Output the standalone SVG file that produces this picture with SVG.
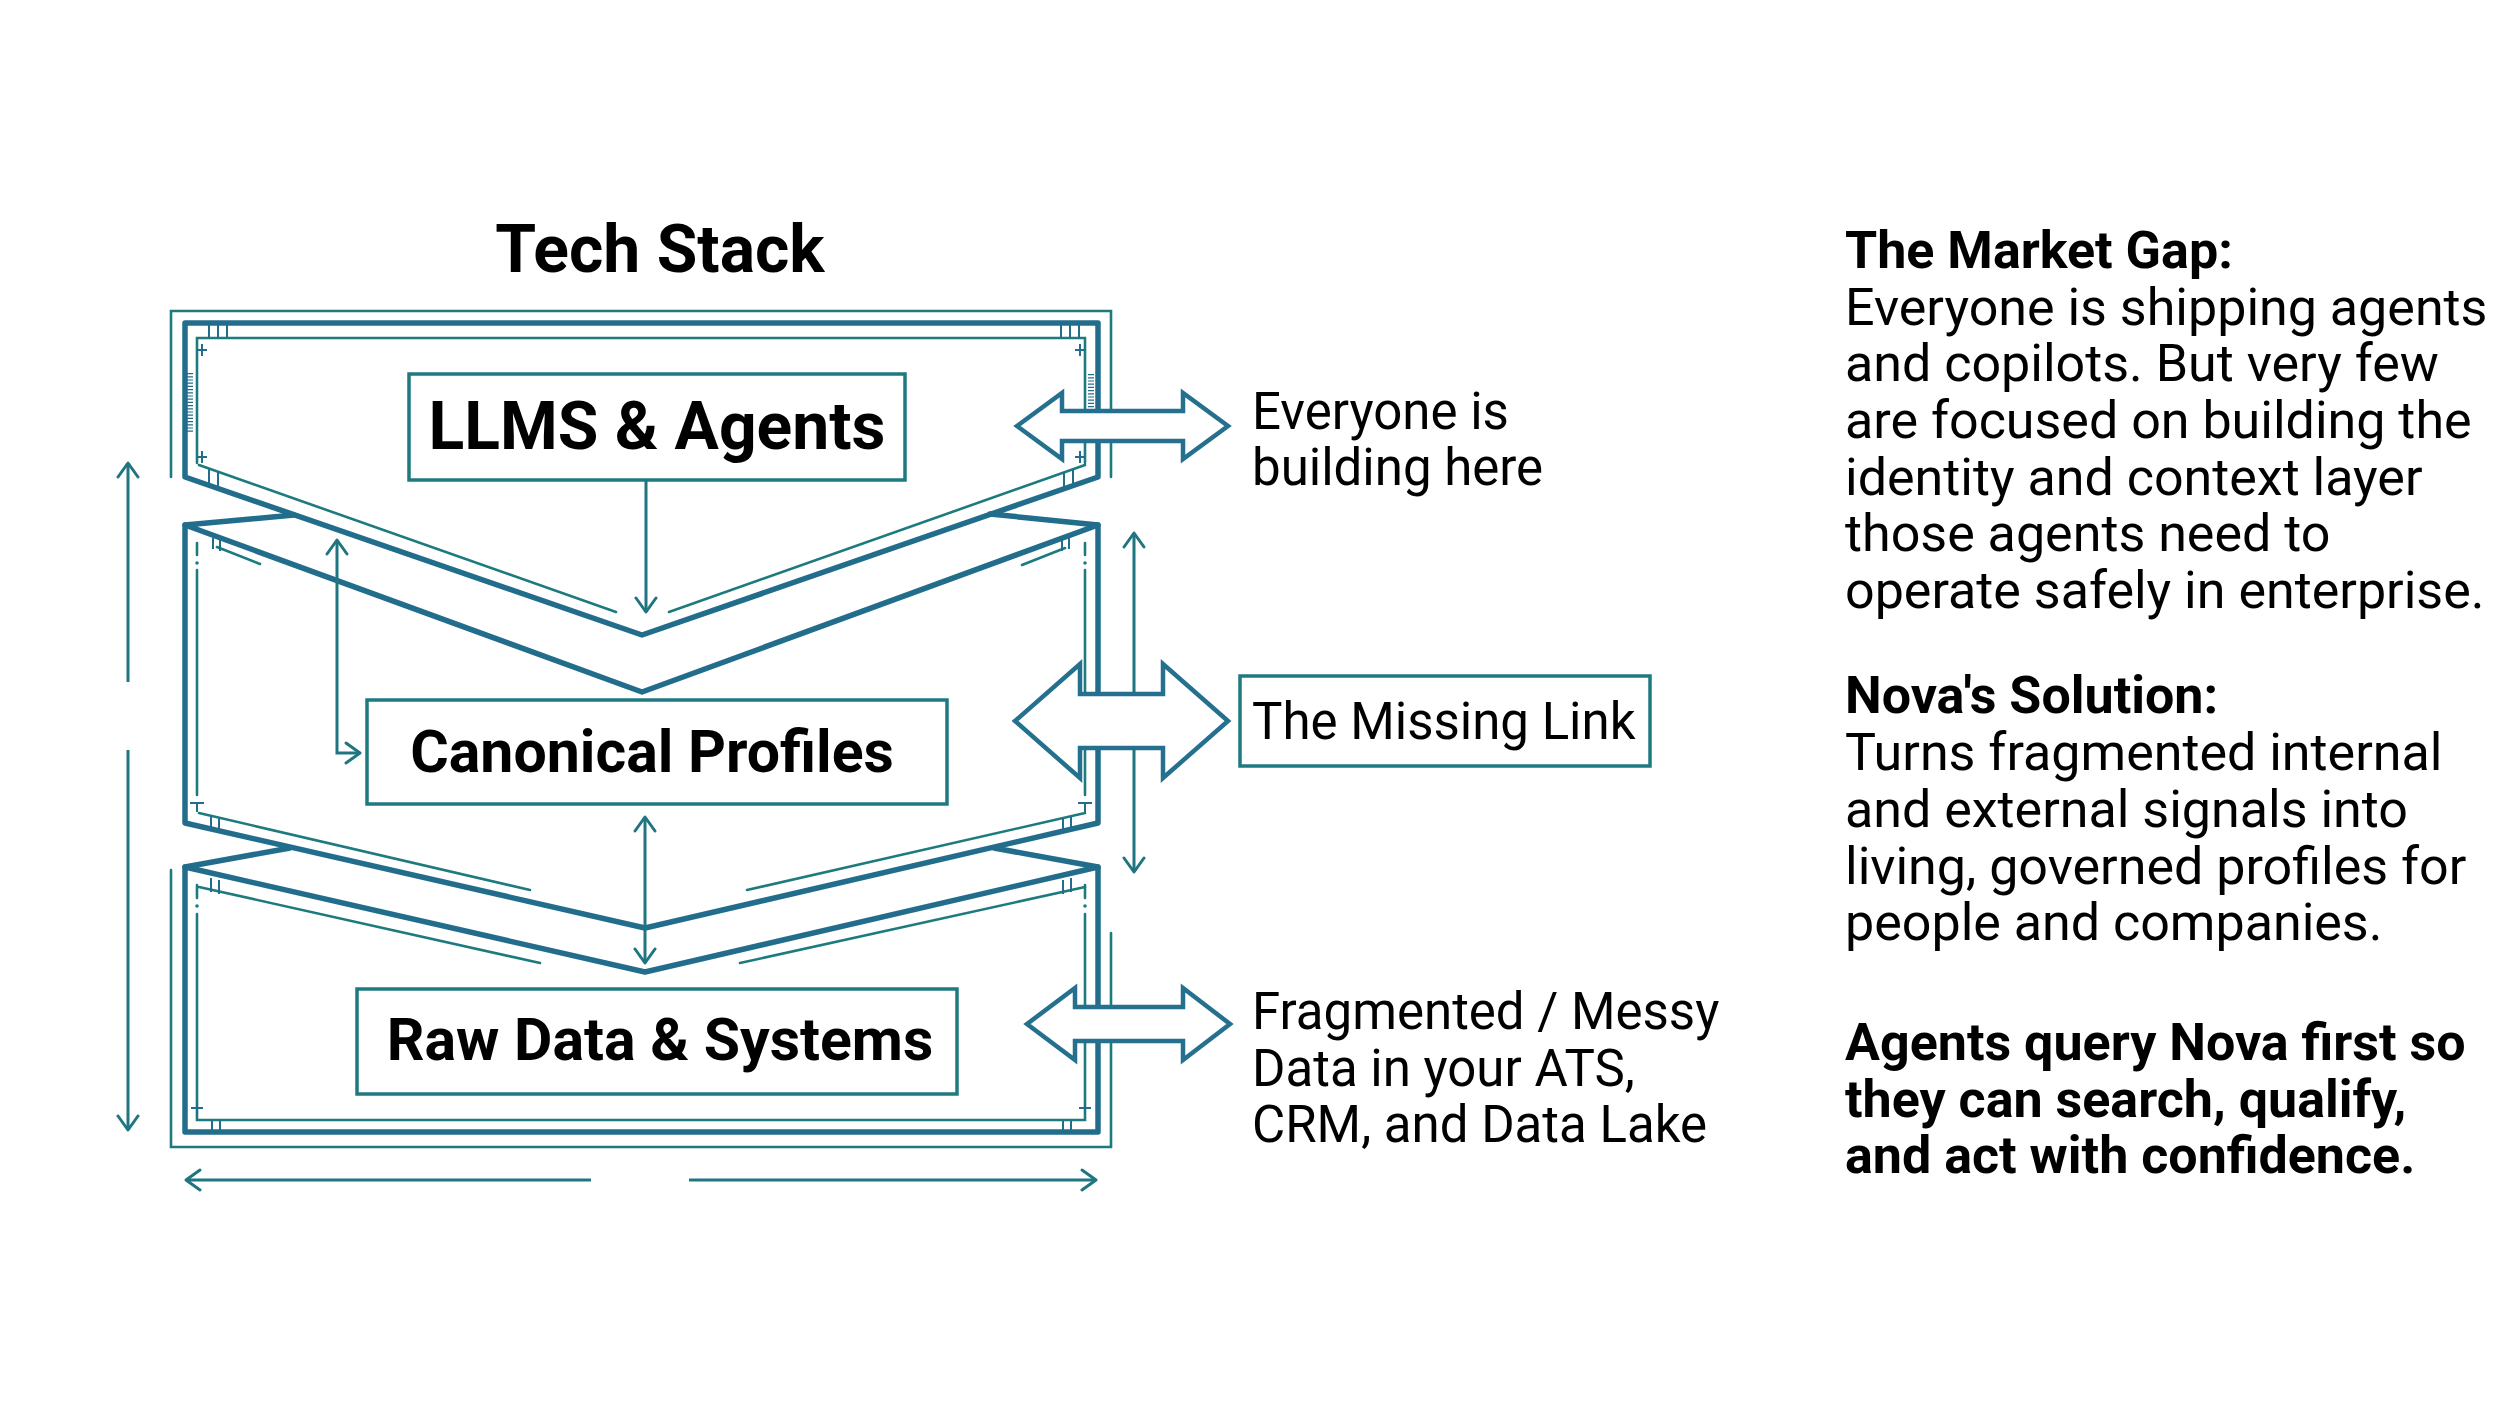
<svg xmlns="http://www.w3.org/2000/svg" width="2500" height="1406" viewBox="0 0 2500 1406">
<defs>
<style>
.thick{fill:none;stroke:#236d8c;stroke-width:5.5;stroke-linejoin:round;stroke-linecap:round}
.thin{fill:none;stroke:#1d7a7e;stroke-width:2.6;stroke-linecap:round}
.deco{fill:none;stroke:#236d8c;stroke-width:2}
.hatch{fill:none;stroke:#236d8c;stroke-width:6;stroke-dasharray:1.2 2}
.box{fill:#fff;stroke:#1f7a80;stroke-width:3.5}
.conn{fill:none;stroke:#1f7580;stroke-width:3;marker-end:url(#ah)}
.both{marker-start:url(#ah)}
.block{fill:#fff;stroke:#24708e;stroke-width:4.5;stroke-linejoin:miter}
.lbl{font-family:Roboto,"Liberation Sans",sans-serif;font-size:51px;fill:#000}
.col{font-family:Roboto,"Liberation Sans",sans-serif;font-size:52px;fill:#000}
.bold{font-weight:700}
.node{font-family:Roboto,"Liberation Sans",sans-serif;font-weight:700;fill:#000;text-anchor:middle}
</style>
<marker id="ah" markerUnits="userSpaceOnUse" viewBox="0 0 20 24" markerWidth="20" markerHeight="24" refX="17" refY="12" orient="auto-start-reverse">
<path d="M3,2 L17,12 L3,22" fill="none" stroke="#1f7580" stroke-width="3" stroke-linecap="round" stroke-linejoin="round"/>
</marker>
</defs>
<rect width="2500" height="1406" fill="#fff"/>

<text class="node" x="660" y="272" font-size="66">Tech Stack</text>

<g id="frame">
  <path class="thin" d="M171,477 V311 H1111 V477"/>
  <path class="thin" d="M171,870 V1147 H1111 V933"/>
  <!-- panel 1 -->
  <path class="thick" d="M185,477 V323 H1098 V477 L642,635 Z"/>
  <path class="thin" d="M197,463 V338 H1085 V463"/>
  <path class="thin" d="M199,465 L616,612 M669,612 L1085,465"/>
  <path class="deco" d="M209,325 V338 M218,325 V338 M227,325 V338 M1061,325 V338 M1070,325 V338 M1079,325 V338"/>
  <path class="deco" d="M197,350 H207 M202,344 V356 M1085,350 H1075 M1080,344 V356 M197,457 H207 M202,451 V463 M1085,457 H1075 M1080,451 V463"/>
  <path class="deco" d="M209,469 V485 M218,472 V488 M1064,472 V488 M1073,469 V485"/>
  <path class="hatch" d="M190,373 V433 M1091,374 V408"/>
  <!-- panel 2 -->
  <path class="thick" d="M294,515 L185,525 L642,692 L1098,525 L990,514"/>
  <path class="thick" d="M185,525 V823 L645,928 L1098,823 V525"/>
  <path class="thin" d="M197,543 V555 M197,570 V795 M1085,543 V555 M1085,570 V795"/>
  <circle cx="197" cy="563" r="1.8" fill="#1d7a7e"/>
  <circle cx="1085" cy="563" r="1.8" fill="#1d7a7e"/>
  <path class="thin" d="M217,547 L260,564 M1022,565 L1065,548"/>
  <path class="deco" d="M213,538 V549 M220,540 V551 M1062,540 V551 M1069,538 V549"/>
  <path class="deco" d="M190,803 H204 M197,803 V812 M1078,803 H1092 M1085,803 V812"/>
  <path class="thin" d="M199,813 L530,890 M747,890 L1085,813"/>
  <path class="deco" d="M211,816 V831 M219,818 V833 M1063,818 V833 M1071,816 V831"/>
  <!-- panel 3 -->
  <path class="thick" d="M290,848 L185,867 L645,972 L1098,867 L994,848"/>
  <path class="thick" d="M185,867 V1132 H1098 V867"/>
  <path class="thin" d="M197,885 V898 M197,914 V1120 H1085 V914 M1085,885 V898"/>
  <circle cx="197" cy="906" r="1.8" fill="#1d7a7e"/>
  <circle cx="1085" cy="906" r="1.8" fill="#1d7a7e"/>
  <path class="thin" d="M199,887 L540,963 M740,963 L1085,887"/>
  <path class="deco" d="M211,878 V892 M219,880 V894 M1063,880 V894 M1071,878 V892"/>
  <path class="deco" d="M191,1108 H203 M197,1102 V1114 M1079,1108 H1091 M1085,1102 V1114"/>
  <path class="deco" d="M212,1121 V1131 M220,1121 V1131 M1063,1121 V1131 M1071,1121 V1131"/>
</g>

<g id="connectors">
  <path class="conn" d="M646,481 V612"/>
  <path class="conn both" d="M337,540 V753 H360"/>
  <path class="conn both" d="M645,817 V963"/>
  <path class="conn both" d="M1134,533 V872"/>
  <path class="conn" d="M128,682 V463"/>
  <path class="conn" d="M128,750 V1130"/>
  <path class="conn" d="M591,1180 H186"/>
  <path class="conn" d="M689,1180 H1096"/>
  <polygon class="block" points="1017,426 1062,393 1062,411 1183,411 1183,393 1228,426 1183,459 1183,441 1062,441 1062,459"/>
  <polygon class="block" points="1015,721 1080,664 1080,694 1163,694 1163,664 1228,721 1163,778 1163,748 1080,748 1080,778"/>
  <polygon class="block" points="1027,1024 1075,988 1075,1007 1183,1007 1183,988 1230,1024 1183,1060 1183,1041 1075,1041 1075,1060"/>
</g>

<g id="node-llms">
  <rect class="box" x="409" y="374" width="496" height="106"/>
  <text class="node" x="657" y="449" font-size="66">LLMS &amp; Agents</text>
</g>
<g id="node-canonical">
  <rect class="box" x="367" y="700" width="580" height="104"/>
  <text class="node" x="652" y="772" font-size="59">Canonical Profiles</text>
</g>
<g id="node-raw">
  <rect class="box" x="357" y="989" width="600" height="105"/>
  <text class="node" x="660" y="1060" font-size="59">Raw Data &amp; Systems</text>
</g>
<g id="label-top">
  <text class="lbl" x="1252" y="429">Everyone is</text>
  <text class="lbl" x="1252" y="485">building here</text>
</g>
<g id="node-missing">
  <rect class="box" x="1240" y="676" width="410" height="90"/>
  <text class="lbl" x="1252" y="739">The Missing Link</text>
</g>
<g id="label-bottom">
  <text class="lbl" x="1252" y="1029">Fragmented / Messy</text>
  <text class="lbl" x="1252" y="1086">Data in your ATS,</text>
  <text class="lbl" x="1252" y="1142">CRM, and Data Lake</text>
</g>
<g id="market-gap">
  <text class="col bold" x="1845" y="268">The Market Gap:</text>
  <text class="col" x="1845" y="325">Everyone is shipping agents</text>
  <text class="col" x="1845" y="381">and copilots. But very few</text>
  <text class="col" x="1845" y="438">are focused on building the</text>
  <text class="col" x="1845" y="495">identity and context layer</text>
  <text class="col" x="1845" y="551">those agents need to</text>
  <text class="col" x="1845" y="608">operate safely in enterprise.</text>
</g>
<g id="solution">
  <text class="col bold" x="1845" y="713">Nova's Solution:</text>
  <text class="col" x="1845" y="770">Turns fragmented internal</text>
  <text class="col" x="1845" y="827">and external signals into</text>
  <text class="col" x="1845" y="884">living, governed profiles for</text>
  <text class="col" x="1845" y="940">people and companies.</text>
</g>
<g id="conclusion">
  <text class="col bold" x="1845" y="1060">Agents query Nova first so</text>
  <text class="col bold" x="1845" y="1117">they can search, qualify,</text>
  <text class="col bold" x="1845" y="1173">and act with confidence.</text>
</g>
</svg>
